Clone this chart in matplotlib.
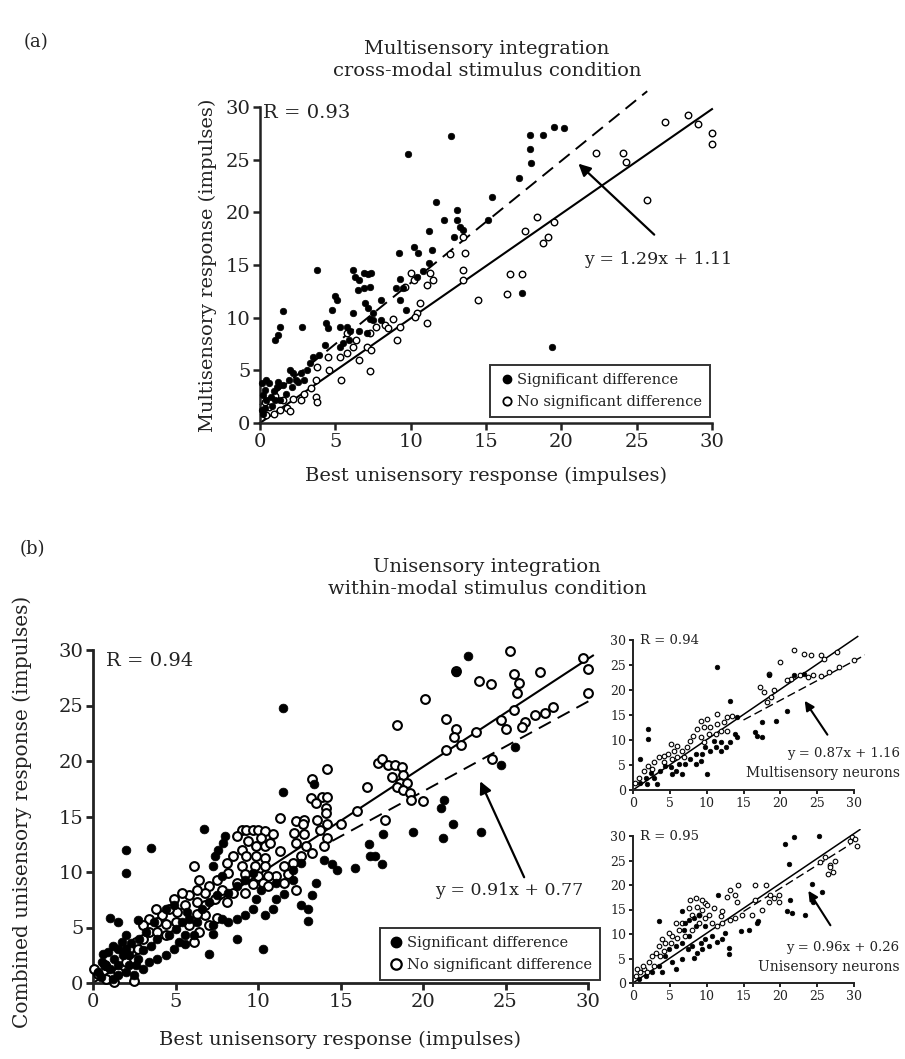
import matplotlib
matplotlib.use("Agg")
import matplotlib.pyplot as plt
from matplotlib.lines import Line2D

plt.rcParams['font.family'] = ['DejaVu Serif']
TXT = '#222222'

W, H = 905, 1059

# ---------------- data ----------------
ticks = [0, 5, 10, 15, 20, 25, 30]

# panel (a): multisensory, cross-modal
a_sig = [(12.7,27.2),(9.8,25.5),(17.2,23.3),(18.0,24.7),(17.9,26.0),(17.9,27.3),(18.8,27.3),(19.5,28.1),(20.2,28.0),
         (15.4,21.5),(15.1,19.3),(11.7,21.0),(12.2,19.3),(13.1,20.2),(13.1,19.3),(13.3,18.6),(13.5,18.3),(12.9,17.7),
         (11.2,18.2),(11.4,16.4),(11.2,15.2),(10.2,16.7),(10.5,16.1),(9.2,16.1),(9.3,13.7),(9.0,12.8),(9.5,12.8),
         (10.4,13.9),(10.8,14.4),(6.2,14.5),(6.3,13.9),(6.6,13.6),(6.9,14.2),(7.2,14.1),(7.4,14.2),(6.5,12.6),
         (6.9,12.8),(7.3,12.9),(7.0,11.4),(7.2,10.9),(8.0,11.7),(7.5,10.4),(7.3,9.9),(3.8,14.5),(5.0,12.1),
         (5.1,11.7),(4.8,10.7),(4.4,9.5),(4.5,9.0),(5.3,9.1),(5.8,9.1),(6.0,8.7),(6.2,10.4),(6.6,8.7),(7.1,8.5),
         (7.5,9.8),(8.0,9.8),(5.9,7.9),(5.5,7.6),(5.3,7.2),(4.3,7.4),(3.9,6.5),(1.5,10.6),(1.3,9.1),(1.2,8.4),
         (1.0,7.9),(2.8,9.1),(0.1,3.8),(0.3,3.1),(0.4,2.2),(0.7,2.5),(0.8,1.6),(1.1,3.4),(1.3,2.2),(1.7,2.8),
         (1.9,4.1),(2.1,3.4),(2.4,4.1),(2.7,4.7),(3.1,5.0),(3.3,5.7),(3.5,6.3),(2.9,4.1),(0.1,1.2),(0.3,1.4),
         (0.6,3.8),(0.9,3.0),(1.5,3.6),(1.2,3.9),(0.2,2.7),(0.4,4.1),(0.2,0.9),(1.0,2.2),(2.0,5.0),(2.2,4.7),
         (2.5,3.9),(19.4,7.2),(17.4,12.3),(9.3,11.7),(9.7,10.7)]
a_ns = [(28.4,29.2),(29.1,28.4),(30.0,27.5),(30.0,26.5),(26.9,28.6),(24.1,25.6),(24.3,24.8),(22.3,25.6),(25.7,21.2),
        (19.5,19.1),(18.4,19.6),(17.6,18.2),(19.1,17.7),(18.8,17.1),(16.6,14.1),(17.4,14.1),(16.4,12.2),(14.5,11.7),
        (13.5,17.7),(13.6,16.1),(13.5,14.5),(13.5,13.6),(12.6,16.0),(11.3,14.2),(11.5,13.6),(11.1,13.1),(10.0,14.2),
        (10.2,13.6),(9.6,12.9),(10.6,11.4),(10.4,10.4),(11.1,9.5),(10.3,10.1),(8.8,9.9),(8.3,9.3),(9.1,7.9),
        (7.7,9.1),(7.3,8.5),(7.1,7.2),(7.4,6.9),(7.3,4.9),(6.6,6.0),(6.4,7.9),(5.8,6.6),(5.3,6.3),(4.5,6.3),
        (5.4,4.1),(4.6,5.0),(3.8,5.3),(3.7,4.1),(3.4,3.3),(3.7,2.5),(3.8,2.0),(2.9,2.8),(2.2,2.3),(1.8,1.4),
        (2.0,1.1),(1.3,1.2),(0.9,0.9),(0.4,0.8),(1.5,2.2),(2.7,2.2),(5.8,8.5),(6.2,7.2),(9.3,9.1),(8.5,9.0),
        (0.3,2.0),(0.6,1.5),(1.0,2.6)]
a_unity_x, a_unity_y = [0, 30], [0, 29.8]
a_fit_x, a_fit_y = [0, 25.7], [1.7, 31.5]

# panel (b) main: unisensory, within-modal
b_sig = [(11.5,24.8),(22.0,28.0),(22.7,29.5),(24.7,19.6),(25.6,21.3),(21.1,15.8),(21.3,16.5),(21.2,13.1),(21.8,14.3),
         (23.5,13.6),(19.4,13.6),(17.6,13.4),(16.7,12.5),(16.8,11.4),(17.1,11.4),(17.5,10.7),(15.9,10.4),(14.8,10.2),
         (14.5,10.7),(14.0,11.1),(11.5,17.2),(13.4,17.9),(6.7,13.9),(8.0,13.2),(7.9,12.6),(7.6,12.0),(7.4,11.4),
         (2.0,12.0),(2.0,9.9),(3.5,12.2),(1.0,5.9),(13.0,6.7),(13.0,5.6),(13.3,7.9),(13.5,9.0),(12.6,7.0),
         (10.3,3.1),(7.0,2.6),(8.7,4.0),(7.3,4.4),(9.2,6.1),(9.7,6.7),(9.9,7.6),(10.2,8.4),(11.1,7.6),(11.6,8.0),
         (11.1,9.0),(12.1,9.3),(12.1,10.2),(12.6,10.8),(10.9,6.7),(10.4,6.1),(8.7,5.8),(8.2,5.5),(7.8,5.8),
         (7.3,5.2),(6.3,5.5),(6.1,4.3),(5.6,3.5),(5.2,3.7),(4.9,3.1),(4.4,2.5),(3.9,2.2),(3.4,1.9),(3.0,1.3),
         (2.5,0.7),(2.0,1.0),(1.5,1.6),(1.3,2.2),(0.9,2.8),(0.55,1.9),(0.3,1.0),(1.5,3.1),(2.0,3.1),(2.2,2.5),
         (2.7,2.2),(1.0,1.3),(1.5,0.7),(2.2,1.6),(1.75,3.7),(2.0,4.3),(4.6,4.3),(5.0,4.9),(5.4,5.5),(5.7,6.4),
         (5.8,5.8),(6.6,6.7),(7.0,7.3),(7.5,7.9),(8.2,8.1),(8.7,8.7),(9.2,9.3),(9.7,9.9),(7.8,9.6),(7.3,10.5),
         (5.6,4.3),(3.9,4.0),(3.7,5.5),(3.2,4.6),(2.8,4.0),(4.4,6.7),(4.9,7.0),(2.7,5.7),(1.5,5.5),
         (0.5,0.5),(1.2,0.4),(0.8,1.5),(1.8,2.5),(2.3,3.6),(1.2,3.3),(0.6,2.6),(3.0,3.0),(3.5,3.3),(2.6,1.6)]
b_ns = [(25.3,29.9),(22.0,28.1),(23.4,27.2),(24.1,26.9),(25.5,27.8),(25.8,27.0),(25.7,26.1),(27.1,28.0),(29.7,29.3),
        (30.0,28.3),(30.0,26.1),(27.9,24.9),(27.4,24.3),(26.8,24.1),(26.2,23.5),(26.0,23.1),(25.5,24.6),(24.7,23.7),
        (25.0,22.9),(24.2,20.2),(23.2,22.6),(22.3,21.4),(22.0,22.9),(21.9,22.2),(21.4,23.8),(21.4,21.0),(20.1,25.6),
        (18.4,23.2),(17.3,19.8),(17.5,20.2),(17.9,19.6),(18.1,18.6),(18.3,19.6),(18.7,19.5),(18.8,18.7),(18.6,18.0),
        (19.0,18.0),(18.4,17.7),(18.8,17.4),(19.2,17.1),(19.3,16.5),(20.0,16.4),(16.6,17.7),(16.0,15.5),(15.0,14.3),
        (17.7,14.7),(14.2,19.3),(13.3,18.4),(13.2,16.7),(13.9,16.8),(14.2,16.8),(13.5,16.2),(14.1,15.8),(14.1,15.3),
        (13.6,14.7),(14.2,14.3),(13.75,13.8),(14.2,13.1),(14.0,12.3),(11.35,14.9),(12.3,14.6),(12.8,14.7),(12.7,14.3),
        (12.2,13.5),(12.8,13.4),(12.3,12.6),(12.9,12.3),(13.3,11.7),(12.6,11.4),(12.1,10.8),(11.6,10.5),(11.35,11.9),
        (11.8,9.8),(11.1,9.6),(11.6,9.0),(12.3,8.4),(9.0,13.8),(9.3,13.8),(9.7,13.8),(10.0,13.8),(10.4,13.7),
        (10.9,13.4),(8.7,13.2),(10.2,13.1),(9.4,12.8),(9.9,12.3),(10.4,12.3),(10.75,12.6),(9.0,12.0),(8.5,11.4),
        (9.3,11.4),(9.9,11.4),(10.4,11.3),(8.1,10.8),(9.0,10.5),(9.8,10.5),(10.4,10.5),(8.2,9.9),(9.2,9.8),
        (10.0,9.6),(10.6,9.6),(7.5,9.3),(8.7,9.0),(9.7,8.9),(10.3,9.0),(10.6,8.7),(7.0,8.7),(7.8,8.4),(8.5,8.1),
        (9.2,8.1),(7.4,7.6),(8.1,7.3),(6.8,7.0),(6.1,10.5),(6.4,9.3),(6.8,8.1),(6.3,8.4),(5.8,7.9),(5.4,8.1),
        (4.9,7.6),(5.6,7.0),(5.1,6.4),(4.6,6.7),(4.2,6.1),(3.8,6.7),(3.4,5.8),(3.9,5.5),(4.4,5.3),(5.0,5.5),
        (3.0,5.2),(3.4,4.6),(3.9,4.6),(4.4,4.3),(3.0,4.0),(2.6,3.7),(2.2,3.1),(2.7,3.1),(6.3,7.3),(6.8,6.1),
        (6.3,6.2),(5.8,5.2),(6.4,4.6),(7.0,5.2),(7.5,5.9),(6.1,3.7),(0.07,1.3),(0.3,0.8),(0.8,0.4),(1.5,1.0),
        (2.0,1.9),(1.3,0.1),(2.5,0.2),(0.7,1.6)]
b_unity_x, b_unity_y = [0, 30.3], [0, 29.5]
b_fit_x, b_fit_y = [14.5, 30.3], [12.8, 25.6]

# inset 1: multisensory neurons
m_sig = [(11.4,24.6),(2.0,12.3),(2.0,10.2),(1.0,6.2),(10.1,3.2),(6.7,3.2),(5.3,3.2),(13.2,17.9),(14.1,14.6),
         (13.9,11.3),(16.6,11.6),(16.9,10.9),(17.5,10.6),(19.4,13.9),(17.5,13.6),(20.9,15.9),(18.4,23.0),
         (21.8,23.0),(23.2,23.3),(1.0,1.5),(1.7,2.5),(2.4,3.5),(2.8,2.5),(3.3,1.2),(1.9,1.2),(3.7,3.9),(4.4,4.9),
         (5.1,4.6),(5.8,3.9),(6.2,5.2),(7.1,5.2),(7.8,6.2),(8.5,7.2),(9.4,7.2),(9.8,8.6),(10.5,7.9),(11.2,8.6),
         (11.9,7.9),(12.6,8.6),(13.2,9.6),(14.1,10.6),(9.2,5.9),(8.5,5.2),(11.9,9.6),(11.0,9.9)]
m_ns = [(21.8,28.1),(23.2,27.3),(24.1,27.0),(25.5,27.0),(25.9,26.3),(27.7,27.7),(20.0,25.7),(18.4,23.3),(21.4,22.3),
        (22.7,23.0),(23.7,22.6),(24.5,23.0),(25.5,22.8),(26.6,23.6),(28.0,24.6),(30.0,26.0),(17.3,20.6),(17.8,19.6),
        (18.7,18.6),(19.1,20.0),(18.2,17.6),(20.9,22.0),(9.2,13.9),(10.1,14.3),(11.4,15.3),(12.8,14.6),(13.5,14.9),
        (12.3,13.6),(9.6,12.6),(10.5,12.6),(8.7,12.3),(11.4,13.3),(11.9,11.9),(10.3,11.3),(9.2,10.6),(8.2,10.9),
        (7.8,9.9),(11.2,11.3),(9.6,9.6),(12.8,11.9),(7.3,8.6),(6.7,7.9),(6.0,8.9),(5.5,7.9),(5.1,9.2),(4.8,7.2),
        (4.2,6.9),(3.5,6.6),(6.0,6.6),(6.9,6.6),(5.3,6.2),(2.8,5.6),(2.1,4.9),(1.45,3.9),(0.8,2.5),(0.3,1.5),
        (2.6,4.2),(4.2,5.6)]
m_unity_x, m_unity_y = [0, 30.5], [0, 30.7]
m_fit_x, m_fit_y = [15, 31.5], [14.0, 27.0]

# inset 2: unisensory neurons
u_sig = [(20.6,28.3),(21.8,29.7),(25.2,30.1),(21.2,24.2),(21.3,16.9),(20.9,14.6),(21.6,14.3),(23.4,13.9),(3.5,12.6),
         (6.7,14.6),(11.6,18.0),(11.4,8.4),(13.0,7.2),(13.0,5.9),(14.6,10.6),(15.7,10.9),(16.8,12.3),(17.0,12.6),
         (24.5,16.6),(25.6,18.6),(24.3,20.3),(6.7,8.2),(7.6,9.6),(8.0,7.6),(8.7,6.2),(9.2,8.2),(9.8,8.9),
         (10.3,7.6),(10.7,9.6),(9.4,6.9),(8.3,5.2),(7.4,6.9),(5.3,4.2),(4.4,5.6),(3.5,3.5),(2.6,2.2),(1.7,1.5),
         (0.8,0.9),(4.9,6.9),(5.8,7.6),(6.9,10.9),(7.1,12.3),(7.6,12.9),(8.3,13.3),(8.9,13.9),(8.5,11.6),
         (9.8,11.6),(12.5,10.2),(12.1,8.9),(6.7,4.9),(5.8,2.9),(4.0,2.2)]
u_ns = [(29.7,29.7),(30.4,28.0),(29.5,29.0),(27.4,25.0),(26.7,24.0),(26.5,22.3),(25.4,24.6),(14.3,20.0),(13.2,19.0),
        (12.8,17.6),(13.9,18.0),(14.1,16.6),(16.6,20.0),(18.0,20.0),(12.1,14.6),(11.9,13.6),(11.0,15.3),(10.3,13.9),
        (9.8,16.3),(9.4,14.9),(8.7,15.6),(8.9,13.9),(8.0,13.9),(7.6,15.3),(7.8,16.9),(8.5,17.3),(9.4,16.9),
        (10.1,15.9),(10.7,12.3),(11.4,11.6),(12.1,12.3),(13.2,12.9),(13.9,13.3),(14.8,13.9),(16.2,13.9),(17.5,14.9),
        (18.4,16.6),(19.1,17.3),(19.8,16.6),(19.8,18.0),(18.6,18.0),(16.6,17.0),(6.7,12.3),(6.2,10.9),(5.8,12.3),
        (5.3,9.6),(4.9,10.2),(4.4,8.2),(4.0,8.9),(3.5,7.6),(3.1,6.2),(2.6,5.6),(2.2,4.2),(1.5,2.9),(1.0,2.2),
        (0.4,1.5),(0.6,2.9),(1.3,3.5),(1.9,2.2),(2.8,3.5),(3.7,5.6),(4.2,6.6),(5.1,8.2),(6.0,9.2),(7.1,9.6),
        (8.0,10.9),(8.9,12.3),(9.8,13.3),(26.1,25.7),(26.7,23.6),(27.2,22.6),(30.1,29.3)]
u_unity_x, u_unity_y = [0, 30.8], [0, 31.3]
u_fit_x, u_fit_y = [15, 29.5], [14.6, 28.3]

# ---------------- helpers ----------------
fig = plt.figure(figsize=(W / 100, H / 100), dpi=100)


def place(x0, x30, y0, y30, xlim, ylim):
    sx = (x30 - x0) / 30.0
    sy = (y0 - y30) / 30.0
    left = x0 + xlim[0] * sx
    right = x0 + xlim[1] * sx
    bottom = y0 - ylim[0] * sy
    top = y0 - ylim[1] * sy
    ax = fig.add_axes([left / W, 1 - bottom / H, (right - left) / W, (bottom - top) / H])
    ax.set_xlim(xlim)
    ax.set_ylim(ylim)
    ax.patch.set_alpha(0)
    for s in ('top', 'right'):
        ax.spines[s].set_visible(False)
    ax.spines['left'].set_position(('data', 0))
    ax.spines['bottom'].set_position(('data', 0))
    return ax


def style(ax, fs, lw, tl):
    ax.spines['left'].set_bounds(0, 30)
    ax.spines['bottom'].set_bounds(0, 30)
    for s in ('left', 'bottom'):
        ax.spines[s].set_linewidth(lw)
        ax.spines[s].set_color(TXT)
    ax.set_xticks(ticks)
    ax.set_yticks(ticks)
    ax.tick_params(direction='out', length=tl, width=lw, labelsize=fs, colors=TXT, pad=2)


def scatter(ax, sig, ns, s, lw):
    sx, sy = zip(*sig)
    nx, ny = zip(*ns)
    ax.scatter(nx, ny, s=s, facecolors='white', edgecolors='black', linewidths=lw, zorder=3, clip_on=False)
    ax.scatter(sx, sy, s=s, facecolors='black', edgecolors='black', linewidths=0.5, zorder=4, clip_on=False)


def legend(ax, anchor, ms, mew):
    h = [Line2D([], [], marker='o', ls='none', mfc='black', mec='black', ms=ms),
         Line2D([], [], marker='o', ls='none', mfc='white', mec='black', mew=mew, ms=ms)]
    lg = ax.legend(h, ['Significant difference', 'No significant difference'], loc='lower right',
                   bbox_to_anchor=anchor, bbox_transform=ax.transData, fontsize=10.5,
                   frameon=True, fancybox=False, edgecolor='black', handletextpad=0.2,
                   handlelength=1.1, borderpad=0.55, labelspacing=0.55, borderaxespad=0)
    lg.get_frame().set_linewidth(1.4)
    for t in lg.get_texts():
        t.set_color(TXT)
    return lg


def fx(px):
    return px / W


def fy(py):
    return 1 - py / H


# ---------------- panel (a) ----------------
axa = place(260, 712, 423, 107, (-0.8, 31.5), (-0.8, 32.0))
style(axa, 14, 1.8, 5)
axa.plot(a_unity_x, a_unity_y, color='black', lw=1.5, zorder=2)
axa.plot(a_fit_x, a_fit_y, color='black', lw=1.4, ls=(0, (7, 4)), zorder=2)
scatter(axa, a_sig, a_ns, 22, 1.0)
axa.text(0.2, 29.4, 'R = 0.93', fontsize=14, color=TXT, va='center', ha='left')
axa.text(21.5, 15.5, 'y = 1.29x + 1.11', fontsize=12.5, color=TXT, va='center', ha='left')
axa.annotate('', xy=(21.0, 24.8), xytext=(26.3, 17.7),
             arrowprops=dict(arrowstyle='-|>', color='black', lw=1.6, mutation_scale=18))
legend(axa, (29.9, 0.6), 6, 1.3)

fig.text(fx(24), fy(42), '(a)', fontsize=13, color=TXT, ha='left', va='center')
fig.text(fx(487), fy(60), 'Multisensory integration\ncross-modal stimulus condition', fontsize=14,
         color=TXT, ha='center', va='center', linespacing=1.35)
fig.text(fx(208), fy(265), 'Multisensory response (impulses)', fontsize=14, color=TXT,
         rotation=90, ha='center', va='center')
fig.text(fx(486), fy(476), 'Best unisensory response (impulses)', fontsize=14, color=TXT,
         ha='center', va='center')

# ---------------- panel (b) main ----------------
axb = place(93, 588, 983, 650, (-0.8, 31.0), (-0.8, 31.0))
style(axb, 14, 2.0, 5)
axb.plot(b_unity_x, b_unity_y, color='black', lw=1.5, zorder=2)
axb.plot(b_fit_x, b_fit_y, color='black', lw=1.4, ls=(0, (7, 4)), zorder=2)
scatter(axb, b_sig, b_ns, 40, 1.5)
axb.text(0.8, 29.0, 'R = 0.94', fontsize=14, color=TXT, va='center', ha='left')
axb.text(29.7, 8.3, 'y = 0.91x + 0.77', fontsize=12.5, color=TXT, va='center', ha='right')
axb.annotate('', xy=(23.4, 18.4), xytext=(26.2, 9.3),
             arrowprops=dict(arrowstyle='-|>', color='black', lw=1.6, mutation_scale=18))
legend(axb, (30.7, 0.25), 7.5, 1.6)

fig.text(fx(20), fy(549), '(b)', fontsize=13, color=TXT, ha='left', va='center')
fig.text(fx(487), fy(578), 'Unisensory integration\nwithin-modal stimulus condition', fontsize=14,
         color=TXT, ha='center', va='center', linespacing=1.35)
fig.text(fx(22), fy(812), 'Combined unisensory response (impulses)', fontsize=14.5, color=TXT,
         rotation=90, ha='center', va='center')
fig.text(fx(340), fy(1040), 'Best unisensory response (impulses)', fontsize=14, color=TXT,
         ha='center', va='center')

# ---------------- insets ----------------
def inset(y0, y30, sig, ns, unity, fit, rtxt, eq, name, arrow):
    ax = place(633, 854, y0, y30, (-0.8, 31.5), (-1.0, 31.5))
    style(ax, 9, 1.4, 3)
    ax.plot(unity[0], unity[1], color='black', lw=1.1, zorder=2)
    ax.plot(fit[0], fit[1], color='black', lw=1.0, ls=(0, (6, 3)), zorder=2)
    scatter(ax, sig, ns, 11, 0.8)
    ax.text(1.0, 30.0, rtxt, fontsize=9.5, color=TXT, va='center', ha='left')
    ax.text(36.2, 7.2, eq, fontsize=9.5, color=TXT, va='center', ha='right')
    ax.text(36.2, 3.3, name, fontsize=10, color=TXT, va='center', ha='right')
    ax.annotate('', xy=arrow[1], xytext=arrow[0],
                arrowprops=dict(arrowstyle='-|>', color='black', lw=1.5, mutation_scale=14))
    return ax


inset(790, 640, m_sig, m_ns, (m_unity_x, m_unity_y), (m_fit_x, m_fit_y), 'R = 0.94',
      'y = 0.87x + 1.16', 'Multisensory neurons', ((26.6, 10.6), (23.1, 18.3)))
inset(983, 836, u_sig, u_ns, (u_unity_x, u_unity_y), (u_fit_x, u_fit_y), 'R = 0.95',
      'y = 0.96x + 0.26', 'Unisensory neurons', ((27.0, 11.3), (23.6, 19.3)))

fig.savefig('out.png', dpi=100, facecolor='white')
